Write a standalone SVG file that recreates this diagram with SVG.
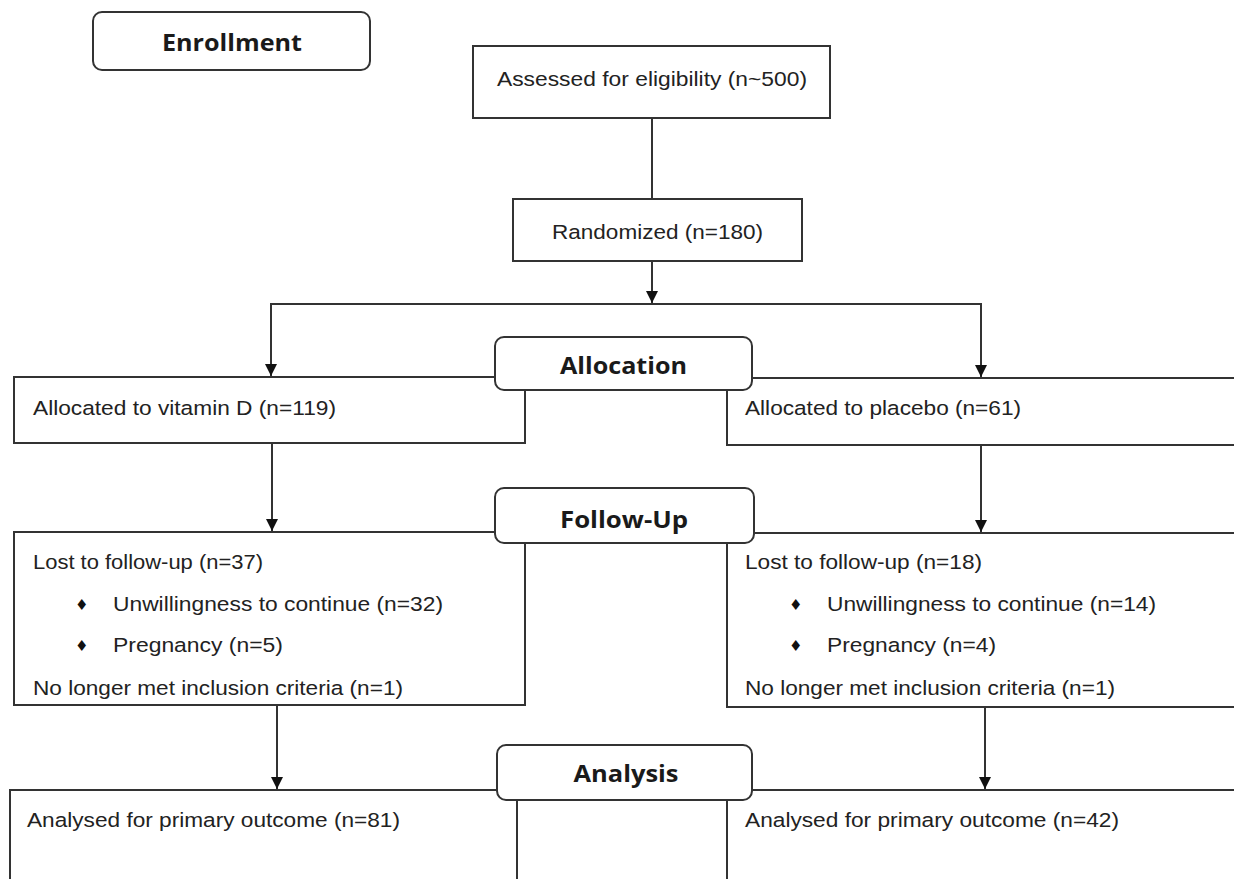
<svg xmlns="http://www.w3.org/2000/svg" width="1234" height="879" viewBox="0 0 1234 879">
<style>
.box{fill:#fff;stroke:#333;stroke-width:2}
.hdr{fill:#fff;stroke:#333;stroke-width:2}
.t{font-family:"Liberation Sans",Arial,sans-serif;font-size:20.5px;fill:#222}
.h{font-family:"Open Sans","Liberation Sans",sans-serif;font-weight:700;font-size:24px;fill:#1a1a1a;text-anchor:middle}
.b{font-family:"DejaVu Sans",sans-serif;font-size:15px;fill:#111}
.c{fill:none;stroke:#333;stroke-width:2}
</style>
<defs>
<marker id="ah" markerWidth="12" markerHeight="12" refX="10" refY="5" orient="auto" markerUnits="userSpaceOnUse" viewBox="0 0 10 10">
<path d="M0,0 L10,5 L0,10 Z" fill="#111"/>
</marker>
</defs>
<rect width="1234" height="879" fill="#fff"/>

<g id="connectors">
<line class="c" x1="652" y1="118" x2="652" y2="199"/>
<line class="c" x1="652" y1="261" x2="652" y2="303" marker-end="url(#ah)"/>
<polyline class="c" points="271,376 271,304 981,304 981,377"/>
<line class="c" x1="271" y1="320" x2="271" y2="376" marker-end="url(#ah)"/>
<line class="c" x1="981" y1="320" x2="981" y2="377" marker-end="url(#ah)"/>
<line class="c" x1="272" y1="443" x2="272" y2="531" marker-end="url(#ah)"/>
<line class="c" x1="981" y1="445" x2="981" y2="532" marker-end="url(#ah)"/>
<line class="c" x1="277" y1="705" x2="277" y2="789" marker-end="url(#ah)"/>
<line class="c" x1="985" y1="707" x2="985" y2="789" marker-end="url(#ah)"/>
</g>

<g id="enrollment">
<rect class="hdr" x="93" y="12" width="277" height="58" rx="9"/>
<text class="h" x="232" y="51" textLength="140" lengthAdjust="spacingAndGlyphs">Enrollment</text>
</g>

<g id="assessed">
<rect class="box" x="473" y="46" width="357" height="72"/>
<text class="t" x="497" y="86" textLength="310" lengthAdjust="spacingAndGlyphs">Assessed for eligibility (n~500)</text>
</g>

<g id="randomized">
<rect class="box" x="513" y="199" width="289" height="62"/>
<text class="t" x="552" y="239" textLength="211" lengthAdjust="spacingAndGlyphs">Randomized (n=180)</text>
</g>

<g id="alloc-vitd">
<rect class="box" x="14" y="377" width="511" height="66"/>
<text class="t" x="33" y="415" textLength="303" lengthAdjust="spacingAndGlyphs">Allocated to vitamin D (n=119)</text>
</g>

<g id="alloc-placebo">
<rect class="box" x="727" y="378" width="520" height="67"/>
<text class="t" x="745" y="415" textLength="276" lengthAdjust="spacingAndGlyphs">Allocated to placebo (n=61)</text>
</g>

<g id="allocation">
<rect class="hdr" x="495" y="337" width="257" height="53" rx="9"/>
<text class="h" x="623.5" y="374" textLength="127" lengthAdjust="spacingAndGlyphs">Allocation</text>
</g>

<g id="followup-vitd">
<rect class="box" x="14" y="532" width="511" height="173"/>
<text class="t" x="33" y="569" textLength="230" lengthAdjust="spacingAndGlyphs">Lost to follow-up (n=37)</text>
<text class="b" x="75" y="610">♦</text>
<text class="t" x="113" y="611" textLength="330" lengthAdjust="spacingAndGlyphs">Unwillingness to continue (n=32)</text>
<text class="b" x="75" y="651">♦</text>
<text class="t" x="113" y="652" textLength="170" lengthAdjust="spacingAndGlyphs">Pregnancy (n=5)</text>
<text class="t" x="33" y="695" textLength="370" lengthAdjust="spacingAndGlyphs">No longer met inclusion criteria (n=1)</text>
</g>

<g id="followup-placebo">
<rect class="box" x="727" y="533" width="520" height="174"/>
<text class="t" x="745" y="569" textLength="237" lengthAdjust="spacingAndGlyphs">Lost to follow-up (n=18)</text>
<text class="b" x="789" y="610">♦</text>
<text class="t" x="827" y="611" textLength="329" lengthAdjust="spacingAndGlyphs">Unwillingness to continue (n=14)</text>
<text class="b" x="789" y="651">♦</text>
<text class="t" x="827" y="652" textLength="169" lengthAdjust="spacingAndGlyphs">Pregnancy (n=4)</text>
<text class="t" x="745" y="695" textLength="370" lengthAdjust="spacingAndGlyphs">No longer met inclusion criteria (n=1)</text>
</g>

<g id="followup">
<rect class="hdr" x="495" y="488" width="259" height="55" rx="9"/>
<text class="h" x="624" y="528" textLength="128" lengthAdjust="spacingAndGlyphs">Follow-Up</text>
</g>

<g id="analysed-vitd">
<rect class="box" x="10" y="790" width="507" height="110"/>
<text class="t" x="27" y="827" textLength="373" lengthAdjust="spacingAndGlyphs">Analysed for primary outcome (n=81)</text>
</g>

<g id="analysed-placebo">
<rect class="box" x="727" y="790" width="520" height="110"/>
<text class="t" x="745" y="827" textLength="374" lengthAdjust="spacingAndGlyphs">Analysed for primary outcome (n=42)</text>
</g>

<g id="analysis">
<rect class="hdr" x="497" y="745" width="255" height="55" rx="9"/>
<text class="h" x="626" y="782" textLength="105" lengthAdjust="spacingAndGlyphs">Analysis</text>
</g>
</svg>
